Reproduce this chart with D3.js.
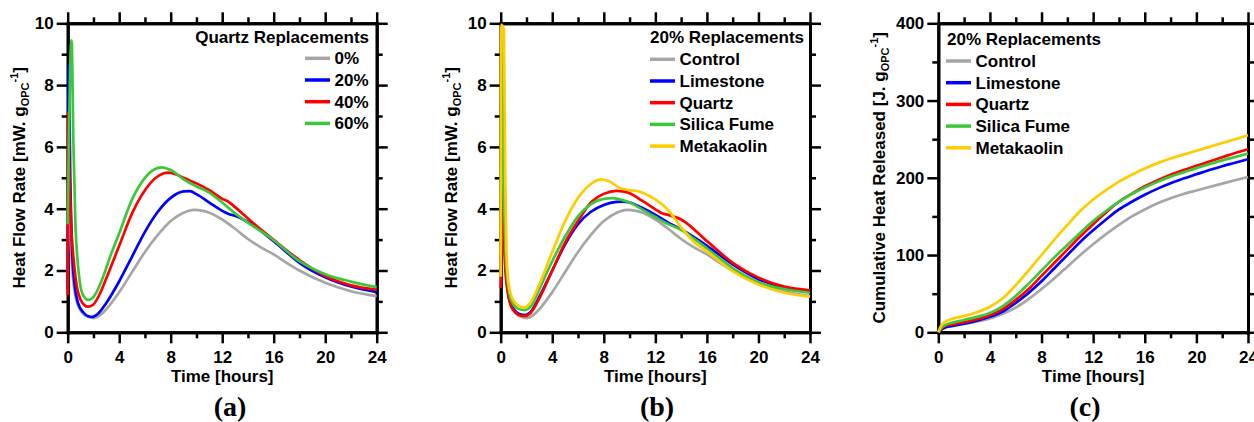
<!DOCTYPE html>
<html>
<head>
<meta charset="utf-8">
<script src="https://cdn.jsdelivr.net/npm/d3@7"></script>
<style>
  body { margin: 0; background: #fff; }
  svg text { font-family: "Liberation Sans", Arial, sans-serif; font-weight: bold; fill: #000; }
</style>
</head>
<body>
<div id="chart"></div>
<script>
// ===== Data: [time (h), value] =====
const xMajor = [0, 4, 8, 12, 16, 20, 24];
const xMinor = [2, 6, 10, 14, 18, 22];
const flowMajor = [0, 2, 4, 6, 8, 10];
const flowMinor = [1, 3, 5, 7, 9];
const cumMajor = [0, 100, 200, 300, 400];
const cumMinor = [50, 150, 250, 350];

// heat flow, mW/g OPC — 0% quartz = control
const flowControl = [[0,1.5],[0.08,6.0],[0.2,3.5],[0.4,1.8],[0.7,1.0],[1.1,0.65],[1.6,0.5],[2,0.46],[2.5,0.55],[3,0.75],[4,1.3],[5,1.95],[6,2.6],[7,3.15],[8,3.6],[9,3.87],[9.8,3.96],[10.5,3.93],[11,3.87],[12,3.65],[13,3.35],[14,3.02],[15,2.75],[16,2.52],[17,2.25],[18,2.0],[20,1.6],[22,1.33],[24,1.17]];
const flowQuartz20 = [[0,1.4],[0.08,8.65],[0.2,5.0],[0.35,2.6],[0.55,1.5],[0.8,0.95],[1.2,0.65],[1.6,0.52],[1.9,0.5],[2.3,0.58],[3,0.95],[4,1.65],[5,2.45],[6,3.25],[7,3.9],[8,4.35],[9,4.56],[9.5,4.57],[10,4.47],[11,4.2],[12,3.93],[12.5,3.83],[13,3.77],[14,3.57],[16,2.95],[18,2.25],[20,1.78],[22,1.48],[24,1.3]];
const flowQuartz40 = [[0,1.2],[0.03,7.1],[0.15,5.0],[0.3,3.2],[0.45,2.4],[0.7,1.5],[1.0,1.05],[1.3,0.88],[1.6,0.83],[2.0,0.9],[2.5,1.25],[3,1.75],[4,2.8],[5,3.85],[6,4.6],[7,5.05],[7.8,5.17],[8.5,5.1],[9,5.0],[10,4.82],[11,4.6],[12,4.32],[12.5,4.22],[13,4.05],[14,3.68],[16,2.99],[18,2.34],[20,1.82],[22,1.52],[24,1.38]];
const flowQuartz60 = [[0,3.5],[0.3,9.45],[0.45,6.0],[0.6,3.5],[0.75,2.4],[0.95,1.6],[1.2,1.2],[1.6,1.05],[1.9,1.1],[2.3,1.35],[2.8,1.85],[3.3,2.45],[4,3.2],[5,4.3],[6,5.0],[7,5.32],[7.3,5.34],[8,5.25],[9,4.95],[10,4.72],[11,4.52],[12,4.2],[13,3.85],[14,3.55],[16,2.98],[18,2.3],[20,1.88],[22,1.64],[24,1.46]];

// 20 % replacements, panel (b)
const flowLimestone = [[0,2.0],[0.08,9.3],[0.2,5.0],[0.35,2.5],[0.55,1.4],[0.8,0.9],[1.2,0.66],[1.6,0.57],[1.9,0.56],[2.3,0.65],[3,1.15],[4,2.0],[5,2.85],[6,3.5],[7,3.9],[8,4.12],[9,4.22],[9.5,4.23],[10,4.2],[11,4.02],[12,3.8],[13,3.55],[14,3.33],[15,3.08],[16,2.8],[18,2.2],[20,1.72],[22,1.45],[24,1.33]];
const flowQuartz = [[0,1.43],[0.03,1.8],[0.08,8.5],[0.2,4.5],[0.35,2.2],[0.55,1.3],[0.8,0.85],[1.2,0.62],[1.6,0.54],[1.9,0.53],[2.3,0.62],[3,1.1],[4,2.0],[5,2.9],[6,3.6],[7,4.2],[8,4.48],[9,4.58],[9.5,4.56],[10,4.5],[11,4.25],[12,3.98],[12.5,3.85],[13,3.8],[14,3.65],[16,2.95],[18,2.25],[20,1.77],[22,1.48],[24,1.36]];
const flowSilicaFume = [[0,2.5],[0.1,9.5],[0.22,5.2],[0.38,2.6],[0.58,1.5],[0.85,1.0],[1.2,0.8],[1.6,0.73],[1.9,0.72],[2.3,0.82],[3,1.4],[3.6,1.95],[4,2.3],[5,3.1],[6,3.75],[7,4.15],[8,4.32],[8.7,4.34],[9.5,4.27],[10,4.2],[11,3.97],[12,3.73],[13,3.5],[14,3.32],[15,3.03],[16,2.72],[18,2.08],[20,1.62],[22,1.4],[24,1.28]];
const flowMetakaolin = [[0,1.8],[0.05,9.95],[0.25,9.8],[0.35,5.0],[0.45,2.6],[0.6,1.6],[0.9,1.1],[1.3,0.88],[1.85,0.8],[2.3,0.95],[3,1.55],[4,2.6],[5,3.6],[6,4.35],[7,4.8],[7.8,4.95],[8.5,4.87],[9.2,4.68],[10,4.6],[10.8,4.55],[11.5,4.42],[12,4.3],[13,3.95],[14,3.4],[15,2.92],[16,2.62],[18,1.98],[20,1.55],[22,1.28],[24,1.15]];

// cumulative heat, J/g OPC
const cumControl = [[0,0],[0.2,4],[0.5,7],[1,9],[2,11],[3,14],[4,18],[5,24],[6,32],[7,43],[8,56],[9,70],[10,85],[11,100],[12,114],[13,127],[14,139],[15,150],[16,159],[17,167],[18,173.5],[19,179],[20,183.5],[21,188],[22,192.5],[23,196.8],[24,201]];
const cumLimestone = [[0,0],[0.2,3],[0.5,6],[1,8],[2,11],[3,15],[4,20],[5,27],[6,38],[7,51],[8,66],[9,83],[10,100],[11,117],[12,132],[13,146],[14,159],[15,169],[16,178],[17,186],[18,193],[19,199],[20,204.5],[21,210],[22,215],[23,219.5],[24,224]];
const cumQuartz = [[0,0],[0.2,4],[0.5,8],[1,10],[2,13],[3,17],[4,22],[5,30],[6,42],[7,56],[8,73],[9,90],[10,107],[11,124],[12,140],[13,155],[14,169],[15,179.5],[16,189],[17,197],[18,204],[19,210],[20,215.5],[21,221],[22,226.5],[23,232],[24,237]];
const cumSilicaFume = [[0,0],[0.2,5],[0.5,9],[1,12],[2,16],[3,20],[4,25],[5,34],[6,47],[7,63],[8,80],[9,97],[10,113],[11,129],[12,144],[13,157],[14,169],[15,179],[16,187.5],[17,195],[18,201.5],[19,207],[20,212.5],[21,217.5],[22,222.5],[23,227],[24,231.5]];
const cumMetakaolin = [[0,0],[0.2,8],[0.5,13],[1,17],[2,21],[3,26],[4,33],[5,44],[6,61],[7,80],[8,100],[9,120],[10,139],[11,157],[12,172],[13,184],[14,195],[15,204],[16,212],[17,219],[18,225],[19,230],[20,235],[21,240],[22,245],[23,250],[24,255]];

const GRAY = "#a6a6a6", BLUE = "#0000ff", RED = "#ff0000", GREEN = "#3ac83a", YELLOW = "#ffcc00";

// ===== Layout =====
const W = 1254, H = 422;
const plotTop = 23.3, plotBottom = 332.3;

const panels = [
  {
    left: 67.7, right: 376.7, yMax: 10, yMajor: flowMajor, yMinor: flowMinor,
    yTitle: "Heat Flow Rate [mW. g", titleX: 25, tag: "(a)", tagX: 230,
    legend: { title: "Quartz Replacements", titleX: 369, anchor: "end", titleY: 43.3, lineX: 305, y0: 58.3 },
    series: [
      { name: "0%", color: GRAY, data: flowControl },
      { name: "20%", color: BLUE, data: flowQuartz20 },
      { name: "40%", color: RED, data: flowQuartz40 },
      { name: "60%", color: GREEN, data: flowQuartz60 }
    ]
  },
  {
    left: 500.7, right: 810, yMax: 10, yMajor: flowMajor, yMinor: flowMinor,
    yTitle: "Heat Flow Rate [mW. g", titleX: 457, tag: "(b)", tagX: 657,
    legend: { title: "20% Replacements", titleX: 650, anchor: "start", titleY: 43.3, lineX: 650, y0: 59.3 },
    series: [
      { name: "Control", color: GRAY, data: flowControl },
      { name: "Limestone", color: BLUE, data: flowLimestone },
      { name: "Quartz", color: RED, data: flowQuartz },
      { name: "Silica Fume", color: GREEN, data: flowSilicaFume },
      { name: "Metakaolin", color: YELLOW, data: flowMetakaolin }
    ]
  },
  {
    left: 938.3, right: 1248, yMax: 400, yMajor: cumMajor, yMinor: cumMinor,
    yTitle: "Cumulative Heat Released [J. g", titleX: 885, tag: "(c)", tagX: 1085,
    legend: { title: "20% Replacements", titleX: 947, anchor: "start", titleY: 45, lineX: 946, y0: 61 },
    series: [
      { name: "Control", color: GRAY, data: cumControl },
      { name: "Limestone", color: BLUE, data: cumLimestone },
      { name: "Quartz", color: RED, data: cumQuartz },
      { name: "Silica Fume", color: GREEN, data: cumSilicaFume },
      { name: "Metakaolin", color: YELLOW, data: cumMetakaolin }
    ]
  }
];

const svg = d3.select("#chart").append("svg")
  .attr("width", W)
  .attr("height", H);

function styleAxis(sel) {
  sel.select(".domain").attr("stroke-width", 3).attr("stroke-linecap", "square");
  sel.selectAll(".tick line").attr("stroke-width", 2.5);
  sel.selectAll("text").style("font-size", "17px").style("font-weight", "bold");
}

function drawPanel(p) {
  const x = d3.scaleLinear().domain([0, 24]).range([p.left, p.right]);
  const y = d3.scaleLinear().domain([0, p.yMax]).range([plotBottom, plotTop]);
  const g = svg.append("g");

  // axes: major + minor on all four sides, ticks outward
  const axes = [
    { make: d3.axisBottom, scale: x, t: `translate(0,${plotBottom})`, major: xMajor, minor: xMinor, labels: true, pad: 8 },
    { make: d3.axisTop, scale: x, t: `translate(0,${plotTop})`, major: xMajor, minor: xMinor, labels: false },
    { make: d3.axisLeft, scale: y, t: `translate(${p.left},0)`, major: p.yMajor, minor: p.yMinor, labels: true, pad: 3 },
    { make: d3.axisRight, scale: y, t: `translate(${p.right},0)`, major: p.yMajor, minor: p.yMinor, labels: false }
  ];

  axes.forEach(a => {
    g.append("g")
      .attr("transform", a.t)
      .call(a.make(a.scale).tickValues(a.minor).tickSize(6).tickFormat("").tickSizeOuter(0))
      .call(styleAxis);
    const ax = a.make(a.scale).tickValues(a.major).tickSize(11).tickSizeOuter(0);
    if (a.labels) ax.tickPadding(a.pad).tickFormat(d3.format("d"));
    else ax.tickFormat("");
    g.append("g")
      .attr("transform", a.t)
      .call(ax)
      .call(styleAxis);
  });

  // curves (drawn over the frame, as in the original)
  const line = d3.line()
    .x(d => x(d[0]))
    .y(d => y(d[1]))
    .curve(d3.curveMonotoneX);

  p.series.forEach(s => {
    g.append("path")
      .datum(s.data)
      .attr("fill", "none")
      .attr("stroke", s.color)
      .attr("stroke-width", 2.7)
      .attr("stroke-linejoin", "round")
      .attr("d", line);
  });

  const midX = (p.left + p.right) / 2;
  const midY = (plotTop + plotBottom) / 2;

  // x title
  g.append("text")
    .attr("x", midX)
    .attr("y", 381.5)
    .attr("text-anchor", "middle")
    .style("font-size", "17px")
    .text("Time [hours]");

  // y title with subscript / superscript
  const yt = g.append("text")
    .attr("transform", `translate(${p.titleX},${midY}) rotate(-90)`)
    .attr("text-anchor", "middle")
    .style("font-size", "17px");
  yt.append("tspan").text(p.yTitle);
  yt.append("tspan").attr("dy", 4).style("font-size", "11px").text("OPC");
  yt.append("tspan").attr("dy", -11).style("font-size", "11px").text("-1");
  yt.append("tspan").attr("dy", 7).text("]");

  // panel tag
  g.append("text")
    .attr("x", p.tagX)
    .attr("y", 416)
    .attr("text-anchor", "middle")
    .style("font-family", "'Liberation Serif', 'Times New Roman', serif")
    .style("font-size", "28px")
    .text(p.tag);

  // legend
  const L = p.legend;
  g.append("text")
    .attr("x", L.titleX)
    .attr("y", L.titleY)
    .attr("text-anchor", L.anchor)
    .style("font-size", "17px")
    .text(L.title);

  p.series.forEach((s, i) => {
    const ly = L.y0 + i * 21.7;
    g.append("line")
      .attr("x1", L.lineX).attr("x2", L.lineX + 25)
      .attr("y1", ly).attr("y2", ly)
      .attr("stroke", s.color)
      .attr("stroke-width", 3.5);
    g.append("text")
      .attr("x", L.lineX + 29.5)
      .attr("y", ly + 6)
      .style("font-size", "17px")
      .text(s.name);
  });
}

panels.forEach(drawPanel);
</script>
</body>
</html>
